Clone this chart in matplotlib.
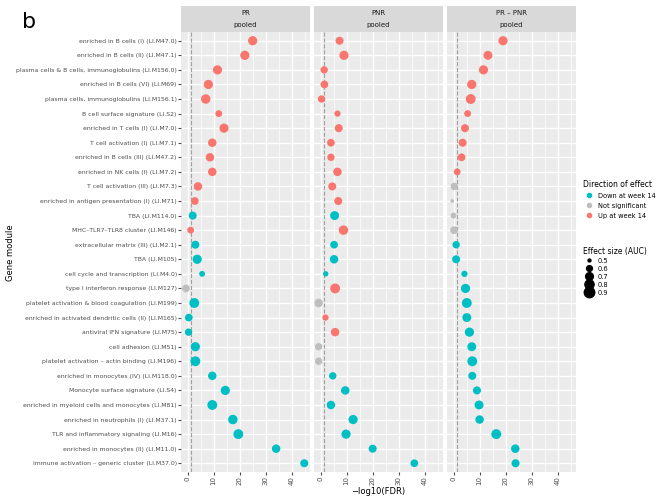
import matplotlib.pyplot as plt
import numpy as np
from matplotlib.lines import Line2D

modules = ['enriched in B cells (I) (LI.M47.0)', 'enriched in B cells (II) (LI.M47.1)',
           'plasma cells & B cells, immunoglobulins (LI.M156.0)', 'enriched in B cells (VI) (LI.M69)',
           'plasma cells, immunoglobulins (LI.M156.1)', 'B cell surface signature (LI.S2)',
           'enriched in T cells (I) (LI.M7.0)', 'T cell activation (I) (LI.M7.1)',
           'enriched in B cells (III) (LI.M47.2)', 'enriched in NK cells (I) (LI.M7.2)',
           'T cell activation (III) (LI.M7.3)', 'enriched in antigen presentation (I) (LI.M71)',
           'TBA (LI.M114.0)', 'MHC\u2013TLR7\u2013TLR8 cluster (LI.M146)', 'extracellular matrix (III) (LI.M2.1)',
           'TBA (LI.M105)', 'cell cycle and transcription (LI.M4.0)', 'type I interferon response (LI.M127)',
           'platelet activation & blood coagulation (LI.M199)', 'enriched in activated dendritic cells (II) (LI.M165)',
           'antiviral IFN signature (LI.M75)', 'cell adhesion (LI.M51)',
           'platelet activation \u2013 actin binding (LI.M196)', 'enriched in monocytes (IV) (LI.M118.0)',
           'Monocyte surface signature (LI.S4)', 'enriched in myeloid cells and monocytes (LI.M81)',
           'enriched in neutrophils (I) (LI.M37.1)', 'TLR and inflammatory signaling (LI.M16)',
           'enriched in monocytes (II) (LI.M11.0)', 'immune activation \u2013 generic cluster (LI.M37.0)']

panels = ['PR', 'PNR', 'PR \u2013 PNR']

pr_fdr = [25, 22, 11.5, 8, 7, 12, 14, 9.5, 8.6, 9.5, 4, 2.8, 2, 1.2, 3, 3.7, 5.6, -0.6, 2.6, 0.5,
          0.4, 3, 3, 9.5, 14.5, 9.5, 17.4, 19.5, 34, 44.8]
pnr_fdr = [7.3, 9, 1.4, 1.5, 0.4, 6.5, 7, 4, 4, 6.5, 4.5, 6.8, 5.4, 8.8, 5.2, 5.2, 2, 5.6, -0.7, 1.9,
           5.6, -0.7, -0.7, 4.7, 9.5, 4, 12.5, 9.8, 20, 36]
diff_fdr = [19, 13.2, 11.5, 7, 6.6, 5.4, 4.4, 3.5, 3.1, 1.4, 0.3, -0.5, 0, 0.2, 1, 1, 4.2, 4.6, 5.1, 5.1,
            6.1, 7, 7.2, 7.2, 9, 9.8, 10, 16.4, 23.7, 23.8]

pr_auc = [0.8, 0.8, 0.8, 0.8, 0.82, 0.65, 0.8, 0.75, 0.75, 0.75, 0.75, 0.7, 0.72, 0.65, 0.72, 0.8, 0.6,
          0.7, 0.85, 0.7, 0.68, 0.8, 0.85, 0.75, 0.8, 0.85, 0.82, 0.85, 0.75, 0.72]
pnr_auc = [0.72, 0.8, 0.68, 0.7, 0.68, 0.62, 0.72, 0.7, 0.68, 0.75, 0.72, 0.72, 0.78, 0.82, 0.7, 0.75,
           0.58, 0.85, 0.75, 0.62, 0.75, 0.68, 0.68, 0.68, 0.75, 0.75, 0.8, 0.8, 0.72, 0.7]
diff_auc = [0.8, 0.78, 0.8, 0.8, 0.85, 0.65, 0.72, 0.72, 0.7, 0.65, 0.68, 0.52, 0.6, 0.7, 0.68, 0.72,
            0.62, 0.8, 0.85, 0.78, 0.8, 0.78, 0.85, 0.72, 0.72, 0.78, 0.75, 0.85, 0.75, 0.72]

# U = up, D = down, N = not significant
pr_dir = list('UUUUUUUUUUUUDUDDDNDDDDDDDDDDDD')
pnr_dir = list('UUUUUUUUUUUUDUDDDUNUUNNDDDDDDD')
diff_dir = list('UUUUUUUUUUNNNNDDDDDDDDDDDDDDDD')

colors = {'D': '#00BFC4', 'N': '#BEBEBE', 'U': '#F8766D'}

def auc_size(a):
    # area grows linearly with AUC, like ggplot's scale_size
    a = np.asarray(a)
    d = np.sqrt(9 + (a - 0.5) / 0.4 * (110 - 9))
    return (d * 0.72) ** 2

fig = plt.figure(figsize=(6.59, 4.98), dpi=100)
W, H = 659, 498
lefts = [181, 314, 447]
pw = 129
top, bot = 32, 472
strip_top = 6
ypos = np.arange(len(modules))[::-1]

for i, (name, fdr, auc, dr) in enumerate(zip(panels, [pr_fdr, pnr_fdr, diff_fdr],
                                             [pr_auc, pnr_auc, diff_auc],
                                             [pr_dir, pnr_dir, diff_dir])):
    ax = fig.add_axes([lefts[i] / W, 1 - bot / H, pw / W, (bot - top) / H])
    ax.set_facecolor('#EBEBEB')
    for s in ax.spines.values():
        s.set_visible(False)
    ax.set_xlim(-2.5, 47)
    ax.set_ylim(-0.6, len(modules) - 0.4)
    ax.set_xticks([0, 10, 20, 30, 40])
    ax.set_xticks([5, 15, 25, 35, 45], minor=True)
    ax.set_yticks(ypos)
    ax.grid(True, which='major', color='white', lw=1.0)
    ax.grid(True, which='minor', axis='x', color='white', lw=0.5)
    ax.set_axisbelow(True)
    ax.axvline(-np.log10(0.05), color='#A0A0A0', ls='--', lw=0.8, zorder=1)
    ax.scatter(fdr, ypos, s=auc_size(auc), c=[colors[d] for d in dr], zorder=3, linewidths=0)
    ax.tick_params(axis='x', which='minor', length=0)
    ax.tick_params(axis='x', labelsize=5, labelrotation=90, colors='#4D4D4D', length=2, pad=1)
    ax.tick_params(axis='y', length=2, colors='#4D4D4D', pad=1)
    if i == 0:
        ax.set_yticklabels(modules, fontsize=4.4)
    else:
        ax.set_yticklabels([])
        ax.tick_params(axis='y', length=0)
    if i == 1:
        ax.set_xlabel('\u2212log10(FDR)', fontsize=6, labelpad=1)
    sax = fig.add_axes([lefts[i] / W, 1 - top / H, pw / W, (top - strip_top) / H])
    sax.set_facecolor('#D9D9D9')
    sax.set_xticks([]); sax.set_yticks([])
    for s in sax.spines.values():
        s.set_visible(False)
    sax.text(0.5, 0.72, name, ha='center', va='center', fontsize=5, color='#1A1A1A')
    sax.text(0.5, 0.27, 'pooled', ha='center', va='center', fontsize=5, color='#1A1A1A')

fig.text(6 / W, 1 - 253 / H, 'Gene module', rotation=90, va='center', fontsize=6)
fig.text(22 / W, 1 - 22 / H, 'b', fontsize=16, ha='left', va='center')

# legends
h1 = [Line2D([], [], marker='o', ls='', color=colors[k], markersize=3) for k in 'DNU']
fig.legend(h1, ['Down at week 14', 'Not significant', 'Up at week 14'],
           loc='upper left', bbox_to_anchor=(578 / W, 1 - 175 / H), frameon=False,
           fontsize=4.8, title='Direction of effect', title_fontsize=5.5,
           handletextpad=0.3, labelspacing=0.6, alignment='left', borderpad=0.2)
aucs = [0.5, 0.6, 0.7, 0.8, 0.9]
h2 = [Line2D([], [], marker='o', ls='', color='black', markersize=np.sqrt(auc_size(a))) for a in aucs]
fig.legend(h2, [str(a) for a in aucs], loc='upper left', bbox_to_anchor=(578 / W, 1 - 242 / H),
           frameon=False, fontsize=4.8, title='Effect size (AUC)', title_fontsize=5.5,
           handletextpad=0.3, labelspacing=0.3, alignment='left', borderpad=0.2)

fig.savefig('out.png', dpi=100)
